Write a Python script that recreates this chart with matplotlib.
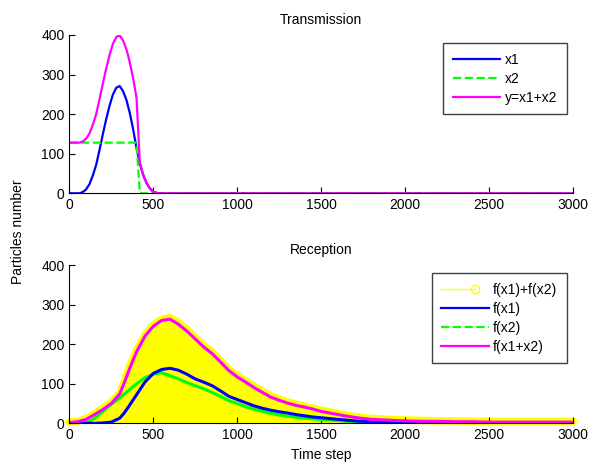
import numpy as np
import matplotlib
matplotlib.use("Agg")
import matplotlib.pyplot as plt
from matplotlib.lines import Line2D
from matplotlib.legend_handler import HandlerBase

plt.rcParams['font.family'] = ['Liberation Sans', 'DejaVu Sans']
plt.rcParams['font.size'] = 10

# Transmission: emitted particles per time step
t_tx = np.array([0, 20, 40, 60, 80, 100, 120, 140, 160, 180, 200, 220, 240, 260,
                 280, 300, 320, 340, 360, 380, 400, 420, 440, 460, 480, 500, 520,
                 540, 560, 3000])
x1 = np.array([0, 0, 0, 0, 3, 10, 23, 45, 72, 110, 150, 188, 222, 250,
               267, 271, 258, 236, 203, 162, 114, 76, 46, 26, 12, 4, 1,
               0, 0, 0])
x2 = np.array([128, 128, 128, 128, 128, 128, 128, 128, 128, 128, 128, 128, 128, 128,
               128, 128, 128, 128, 128, 128, 128, 0, 0, 0, 0, 0, 0,
               0, 0, 0])

# Reception: received particles per time step
t_rx = np.array([0, 50, 100, 150, 200, 250, 300, 325, 350, 375, 400, 450, 500, 550, 600,
                 650, 700, 750, 800, 850, 900, 950, 1000, 1050, 1100, 1150, 1200,
                 1250, 1300, 1350, 1400, 1450, 1500, 1550, 1600, 1650, 1700, 1750,
                 1800, 1850, 1900, 1950, 2000, 2100, 2200, 2300, 2400, 2500, 2600,
                 2700, 2800, 2900, 3000])
f_sum = np.array([3, 5, 12, 24, 38, 53, 76, 102, 133, 160, 183, 223, 248, 263, 267,
                  254, 237, 217, 197, 179, 158, 136, 120, 107, 93, 81, 69,
                  61, 54, 48, 43, 38, 33, 29, 24, 20, 17, 14,
                  12, 11, 10, 9, 8, 7, 6, 6, 5, 5, 5,
                  5, 5, 5, 5])
f_x1 = np.array([0, 0, 0, 0, 1, 3, 13, 25, 40, 56, 72, 104, 126, 136, 139,
                 134, 124, 112, 104, 95, 82, 68, 60, 52, 44, 38, 33,
                 29, 26, 22, 19, 16, 14, 12, 10, 8, 6, 5,
                 4, 3, 3, 2, 2, 1, 1, 0, 0, 0, 0,
                 0, 0, 0, 0])
f_x2 = np.array([0, 0, 2, 12, 30, 48, 64, 73, 82, 91, 100, 115, 124, 128, 120,
                 112, 103, 95, 87, 78, 68, 57, 50, 42, 36, 30, 25,
                 21, 18, 15, 13, 11, 9, 8, 7, 5, 4, 4,
                 3, 3, 2, 2, 1, 1, 1, 0, 0, 0, 0,
                 0, 0, 0, 0])
f_x1x2 = np.array([2, 4, 10, 22, 35, 50, 74, 100, 128, 155, 180, 220, 245, 260, 263,
                   250, 233, 213, 193, 176, 155, 133, 117, 104, 90, 78, 66,
                   58, 51, 45, 41, 36, 30, 26, 22, 18, 15, 12,
                   10, 9, 8, 7, 6, 5, 5, 4, 4, 3, 3,
                   3, 3, 3, 3])


class StemHandler(HandlerBase):
    """Legend entry for a stem series: a short line with a circle at its end."""
    def create_artists(self, legend, orig_handle, xdescent, ydescent,
                       width, height, fontsize, trans):
        y = (height - ydescent) / 2
        end = -xdescent + 0.72 * width
        line = Line2D([-xdescent, end], [y, y], color=orig_handle.get_color(), lw=1)
        dot = Line2D([end], [y], marker='o', ms=6, mfc='none',
                     mec=orig_handle.get_color(), mew=1, ls='none')
        line.set_transform(trans)
        dot.set_transform(trans)
        return [line, dot]


def style_axes(ax):
    ax.set_xlim(0, 3000)
    ax.set_ylim(0, 400)
    ax.set_xticks(np.arange(0, 3001, 500))
    ax.set_yticks(np.arange(0, 401, 100))
    ax.spines['top'].set_visible(False)
    ax.spines['right'].set_visible(False)
    ax.tick_params(direction='in', length=4, width=0.8, labelsize=10)


legend_opts = dict(loc='upper right', fancybox=False, edgecolor='#404040',
                   framealpha=1, handlelength=3.4, handletextpad=0.3,
                   borderpad=0.7, labelspacing=0.35, borderaxespad=0,
                   fontsize=10)

fig = plt.figure(figsize=(5.89, 4.69), dpi=100)
W, H = 589, 469
ax1 = fig.add_axes([69.3 / W, 1 - 193.3 / H, 504 / W, 158.3 / H])
ax2 = fig.add_axes([69.3 / W, 1 - 423.3 / H, 504 / W, 158.3 / H])

# top: transmitted signals
h1, = ax1.plot(t_tx, x1, color='#0000ff', lw=1.6, label='x1')
h2, = ax1.plot(t_tx, x2, color='#00ff00', lw=1.6, ls='--', label='x2')
h3, = ax1.plot(t_tx, x1 + x2, color='#ff00ff', lw=1.6, label='y=x1+x2')
style_axes(ax1)
ax1.set_title('Transmission', fontsize=10, pad=8)
leg1 = ax1.legend(handles=[h1, h2, h3],
                  bbox_to_anchor=(566.7 / W, 1 - 43.3 / H),
                  bbox_transform=fig.transFigure, **legend_opts)
leg1.get_frame().set_linewidth(1.0)

# bottom: received signals
ax2.fill_between(t_rx, 0, f_sum, color='#ffff00', lw=0, zorder=1)
hs, = ax2.plot(t_rx, f_sum, color='#ffff00', lw=5.5, solid_capstyle='round',
               solid_joinstyle='round', clip_on=False, zorder=1.5,
               label='f(x1)+f(x2)')
ax2.plot(t_rx, f_x2, color='#00ff00', lw=2.2, zorder=2)
ax2.plot(t_rx, f_x1, color='#0000ff', lw=2.2, zorder=2.1)
ax2.plot(t_rx, f_x1x2, color='#ff00ff', lw=2.2, zorder=2.2)
style_axes(ax2)
ax2.set_title('Reception', fontsize=10, pad=8)
ax2.set_xlabel('Time step', fontsize=10, labelpad=4)

leg_handles = [hs,
               Line2D([], [], color='#0000ff', lw=1.6),
               Line2D([], [], color='#00ff00', lw=1.6, ls='--'),
               Line2D([], [], color='#ff00ff', lw=1.6)]
leg2 = ax2.legend(leg_handles, ['f(x1)+f(x2)', 'f(x1)', 'f(x2)', 'f(x1+x2)'],
                  handler_map={hs: StemHandler()},
                  bbox_to_anchor=(566.7 / W, 1 - 273.3 / H),
                  bbox_transform=fig.transFigure, **legend_opts)
leg2.get_frame().set_linewidth(1.0)

fig.text(18 / W, 1 - 232 / H, 'Particles number', rotation=90,
         ha='center', va='center', fontsize=10)

fig.savefig('out.png', dpi=100)
